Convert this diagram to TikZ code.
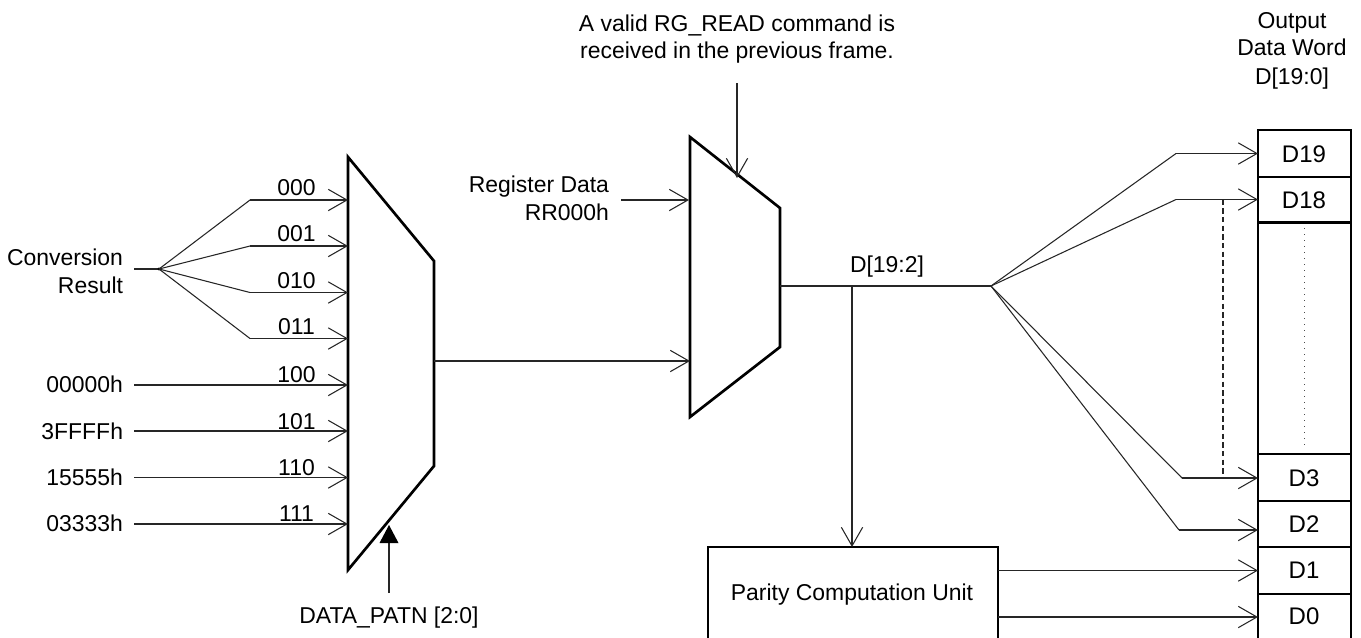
\documentclass[tikz,border=0pt]{standalone}
\usepackage{fontspec}
\setmainfont{Liberation Sans}
\usetikzlibrary{arrows.meta}
\tikzset{
  x=0.75pt,y=-0.75pt,
  every node/.style={inner sep=0pt,outer sep=0pt,font=\fontsize{17.2pt}{20pt}\selectfont},
  wire/.style={line width=0.8pt,draw=black!85},
  arr/.style={wire,-{Straight Barb[length=14pt,width=16pt,line width=0.8pt]}},
  mux/.style={draw=black,line width=2pt,line join=miter,fill=white},
  cell/.style={draw=black,line width=1.7pt,fill=white,minimum width=69.75pt,anchor=north west},
  lab/.style={anchor=base},
  labr/.style={anchor=base east},
  celltext/.style={anchor=base,font=\fontsize{18pt}{20pt}\selectfont},
}
\begin{document}
\begin{tikzpicture}
\useasboundingbox (0,0) rectangle (1361,637);
\clip (0,0) rectangle (1361,637);
% multiplexers
\draw[mux] (348,157) -- (434,261) -- (434,466) -- (348,570) -- cycle;
\draw[mux] (690,137) -- (780,208) -- (780,347) -- (690,417) -- cycle;
% register cells
\node[cell,minimum height=35.25pt] (D19) at (1258,130) {};
\node[cell,minimum height=34pt] (D18) at (1258,177) {};
\node[cell,minimum height=173pt] (Dmid) at (1258,223) {};
\node[cell,minimum height=35.25pt] (D3) at (1258,454) {};
\node[cell,minimum height=34.5pt] (D2) at (1258,501) {};
\node[cell,minimum height=35.25pt] (D1) at (1258,547) {};
\node[cell,minimum height=40pt,line width=1.2pt] (D0) at (1258,594) {};
\node[celltext] (t19) at (1304,162) {D19};
\node[celltext] (t18) at (1304,208) {D18};
\node[celltext] (t3) at (1304,486) {D3};
\node[celltext] (t2) at (1304,532) {D2};
\node[celltext] (t1) at (1304,578) {D1};
\node[celltext] (t0) at (1304,624) {D0};
\draw[line width=0.7pt,black!70,dash pattern=on 0.75pt off 3.75pt] (1304,228) coordinate (dota) -- (1304,450) coordinate (dotb);
% parity
\node[draw=black,line width=1.7pt,minimum width=217.5pt,minimum height=75pt,anchor=north west,fill=white] (par) at (708,547) {};
\node[lab] (part) at (852,600) {Parity Computation Unit};
% coordinates
\coordinate (i0) at (348,200);
\coordinate (i1) at (348,246);
\coordinate (i2) at (348,292.5);
\coordinate (i3) at (348,338.5);
\coordinate (i4) at (348,385);
\coordinate (i5) at (348,431);
\coordinate (i6) at (348,477.5);
\coordinate (i7) at (348,524);
\coordinate (j) at (159,269);
\coordinate (k0) at (250,200);
\coordinate (k1) at (250,246);
\coordinate (k2) at (250,292.5);
\coordinate (k3) at (250,338.5);
\coordinate (conv) at (134,269);
% left labels
\node[labr] (cr1) at (123,265) {Conversion};
\node[labr] (cr2) at (123,293) {Result};
\node[labr] (s4) at (123,392) {00000h};
\node[labr] (s5) at (123,439) {3FFFFh};
\node[labr] (s6) at (123,485) {15555h};
\node[labr] (s7) at (123,531) {03333h};
\coordinate (w4) at (134,385);
\coordinate (w5) at (134,431);
\coordinate (w6) at (134,477.5);
\coordinate (w7) at (134,524);
\node[lab] (l0) at (296.5,195) {000};
\node[lab] (l1) at (296.5,241) {001};
\node[lab] (l2) at (296.5,288) {010};
\node[lab] (l3) at (296.5,334) {011};
\node[lab] (l4) at (296.5,382) {100};
\node[lab] (l5) at (296.5,429) {101};
\node[lab] (l6) at (296.5,475) {110};
\node[lab] (l7) at (296.5,521) {111};
\draw[wire] (conv) -- (j);
\fill (j) circle (1.6);
\foreach \n in {0,1,2,3}{\draw[wire] (j) -- (k\n); \draw[arr] (k\n) -- (i\n);}
\foreach \n in {4,5,6,7}{\draw[arr] (w\n) -- (i\n);}
% select of mux 1
\node[lab] (dp) at (389,623) {DATA\_PATN [2:0]};
\coordinate (sa) at (389,593);
\coordinate (sb) at (389,525);
\draw[wire] (sa) -- (389,540);
\fill (sb) -- (398.5,543) -- (379.5,543) -- cycle;
% mux 2
\node[labr] (rd1) at (609,192) {Register Data};
\node[labr] (rd2) at (609,220) {RR000h};
\coordinate (m2a) at (689,200);
\coordinate (rde) at (621,200);
\draw[arr] (rde) -- (m2a);
\coordinate (m1o) at (434,361);
\coordinate (m2b) at (690,361);
\draw[arr] (m1o) -- (m2b);
\node[lab] (cmd1) at (737,31) {A valid RG\_READ command is};
\node[lab] (cmd2) at (737,58) {received in the previous frame.};
\coordinate (ca) at (737,83);
\coordinate (cb) at (737,178);
\draw[arr] (ca) -- (cb);
% output bus
\coordinate (mo) at (780,286);
\coordinate (f) at (991,286);
\coordinate (t) at (852,286);
\node[lab] (bus) at (887,272) {D[19:2]};
\draw[wire] (mo) -- (f);
\draw[arr] (t) -- (t |- par.north);
\coordinate (k19) at (1176,153.5);
\coordinate (k18) at (1176,199.5);
\coordinate (k3x) at (1182,478);
\coordinate (k2x) at (1179,530);
\draw[wire] (f) -- (k19);
\draw[wire] (f) -- (k18);
\draw[wire] (f) -- (k3x);
\draw[wire] (f) -- (k2x);
\draw[arr] (k19) -- (D19.west |- k19);
\draw[arr] (k18) -- (D18.west |- k18);
\draw[arr] (k3x) -- (D3.west |- k3x);
\draw[arr] (k2x) -- (D2.west |- k2x);
\draw[line width=0.8pt,draw=black!85,dash pattern=on 4pt off 2.5pt] (1223,199.5) coordinate (da) -- (1223,478) coordinate (db);
\coordinate (p1) at (998,570.5);
\coordinate (p0) at (998,617);
\draw[arr] (p1) -- (D1.west |- p1);
\draw[arr] (p0) -- (D0.west |- p0);
\node[lab] (o1) at (1292,28) {Output};
\node[lab] (o2) at (1292,55) {Data Word};
\node[lab] (o3) at (1292,84) {D[19:0]};
\end{tikzpicture}
\end{document}
